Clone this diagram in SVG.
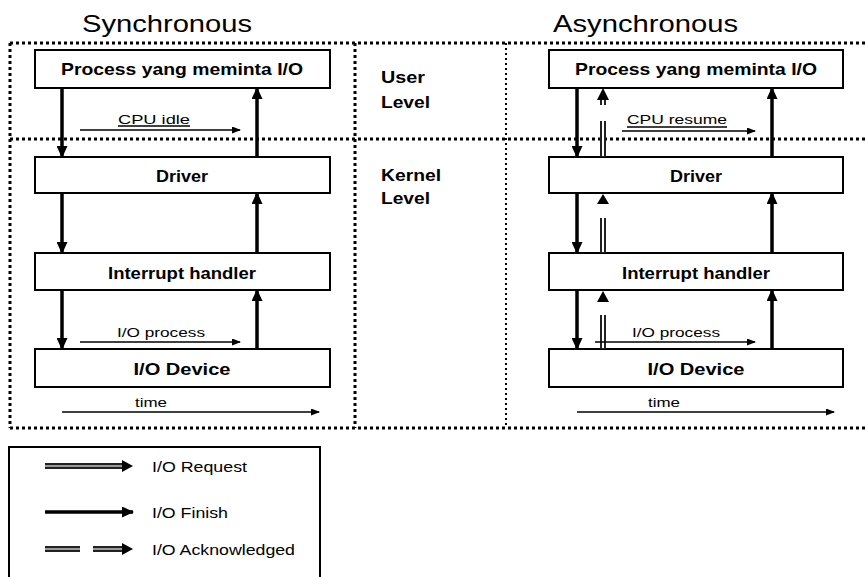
<svg xmlns="http://www.w3.org/2000/svg" width="868" height="577" viewBox="0 0 868 577">
  <defs>
    <style>
      text { font-family: "Liberation Sans", Arial, sans-serif; fill: #000; }
      .title { font-size: 24px; }
      .box { fill: #fff; stroke: #000; stroke-width: 2; }
      .lbl { font-size: 16.5px; font-weight: bold; text-anchor: middle; }
      .lvl { font-size: 17px; font-weight: bold; }
      .small { font-size: 12.5px; }
      .leg { font-size: 14px; }
      .dots { fill: none; stroke: #000; stroke-width: 3; stroke-dasharray: 3 3; }
      .dots2 { fill: none; stroke: #000; stroke-width: 2; stroke-dasharray: 2 3; }
      .thick { stroke: #000; stroke-width: 3.5; fill: none; }
      .thin { stroke: #000; stroke-width: 1.5; fill: none; }
      .dblo { stroke: #222; stroke-width: 6; fill: none; }
      .dbli { stroke: #fff; stroke-width: 2; fill: none; }
      .dblg { stroke: #999; stroke-width: 2; fill: none; }
      .head { fill: #000; }
    </style>
    <marker id="arrThin" markerWidth="9" markerHeight="7" refX="8" refY="3.5" orient="auto" markerUnits="userSpaceOnUse">
      <path d="M0,0 L9,3.5 L0,7 Z" fill="#000"/>
    </marker>
    <marker id="arrThick" markerWidth="12" markerHeight="11" refX="11" refY="5.5" orient="auto" markerUnits="userSpaceOnUse">
      <path d="M0,0 L12,5.5 L0,11 Z" fill="#000"/>
    </marker>
  </defs>

  <rect width="868" height="577" fill="#fff"/>

  <!-- column titles -->
  <text class="title" x="82" y="32" textLength="170" lengthAdjust="spacingAndGlyphs">Synchronous</text>
  <text class="title" x="553" y="32" textLength="185" lengthAdjust="spacingAndGlyphs">Asynchronous</text>

  <!-- dotted frame and dividers -->
  <g id="frame">
    <line class="dots" x1="10" y1="43" x2="868" y2="43"/>
    <line class="dots" x1="10" y1="43" x2="10" y2="428"/>
    <line class="dots" x1="10" y1="428" x2="868" y2="428"/>
    <line class="dots" x1="10" y1="139" x2="868" y2="139"/>
    <line class="dots" x1="355" y1="43" x2="355" y2="428"/>
    <line class="dots2" x1="506" y1="43" x2="506" y2="428"/>
  </g>

  <!-- level labels -->
  <g id="levels">
    <text class="lvl" x="381" y="83" textLength="44" lengthAdjust="spacingAndGlyphs">User</text>
    <text class="lvl" x="381" y="108" textLength="49" lengthAdjust="spacingAndGlyphs">Level</text>
    <text class="lvl" x="381" y="181" textLength="60" lengthAdjust="spacingAndGlyphs">Kernel</text>
    <text class="lvl" x="381" y="204" textLength="49" lengthAdjust="spacingAndGlyphs">Level</text>
  </g>

  <!-- synchronous column -->
  <g id="sync-process">
    <rect class="box" x="35" y="50" width="295" height="38"/>
    <text class="lbl" x="182" y="75" textLength="242" lengthAdjust="spacingAndGlyphs">Process yang meminta I/O</text>
  </g>
  <g id="sync-driver">
    <rect class="box" x="35" y="157" width="295" height="36"/>
    <text class="lbl" x="182" y="182" textLength="52" lengthAdjust="spacingAndGlyphs">Driver</text>
  </g>
  <g id="sync-interrupt">
    <rect class="box" x="35" y="253" width="295" height="37"/>
    <text class="lbl" x="182" y="279" textLength="148" lengthAdjust="spacingAndGlyphs">Interrupt handler</text>
  </g>
  <g id="sync-device">
    <rect class="box" x="35" y="349" width="295" height="38"/>
    <text class="lbl" x="182" y="375" textLength="97" lengthAdjust="spacingAndGlyphs">I/O Device</text>
  </g>

  <!-- asynchronous column -->
  <g id="async-process">
    <rect class="box" x="549" y="50" width="294" height="38"/>
    <text class="lbl" x="696" y="75" textLength="242" lengthAdjust="spacingAndGlyphs">Process yang meminta I/O</text>
  </g>
  <g id="async-driver">
    <rect class="box" x="549" y="157" width="294" height="36"/>
    <text class="lbl" x="696" y="182" textLength="52" lengthAdjust="spacingAndGlyphs">Driver</text>
  </g>
  <g id="async-interrupt">
    <rect class="box" x="549" y="253" width="294" height="37"/>
    <text class="lbl" x="696" y="279" textLength="148" lengthAdjust="spacingAndGlyphs">Interrupt handler</text>
  </g>
  <g id="async-device">
    <rect class="box" x="549" y="349" width="294" height="38"/>
    <text class="lbl" x="696" y="375" textLength="97" lengthAdjust="spacingAndGlyphs">I/O Device</text>
  </g>

  <!-- connectors -->
  <g id="connectors">
    <!-- synchronous: finish arrows down / up -->
    <line class="thick" x1="62" y1="88" x2="62" y2="157" marker-end="url(#arrThick)"/>
    <line class="thick" x1="62" y1="193" x2="62" y2="253" marker-end="url(#arrThick)"/>
    <line class="thick" x1="62" y1="290" x2="62" y2="349" marker-end="url(#arrThick)"/>
    <line class="thick" x1="257" y1="157" x2="257" y2="88" marker-end="url(#arrThick)"/>
    <line class="thick" x1="257" y1="253" x2="257" y2="193" marker-end="url(#arrThick)"/>
    <line class="thick" x1="257" y1="349" x2="257" y2="290" marker-end="url(#arrThick)"/>

    <!-- synchronous: timeline arrows -->
    <line class="thin" x1="80" y1="130" x2="240" y2="130" marker-end="url(#arrThin)"/>
    <line class="thin" x1="80" y1="342" x2="240" y2="342" marker-end="url(#arrThin)"/>
    <line class="thin" x1="62" y1="412" x2="319" y2="412" marker-end="url(#arrThin)"/>

    <!-- asynchronous: finish arrows -->
    <line class="thick" x1="577" y1="88" x2="577" y2="157" marker-end="url(#arrThick)"/>
    <line class="thick" x1="577" y1="193" x2="577" y2="253" marker-end="url(#arrThick)"/>
    <line class="thick" x1="577" y1="290" x2="577" y2="349" marker-end="url(#arrThick)"/>
    <line class="thick" x1="772" y1="157" x2="772" y2="88" marker-end="url(#arrThick)"/>
    <line class="thick" x1="772" y1="253" x2="772" y2="193" marker-end="url(#arrThick)"/>
    <line class="thick" x1="772" y1="349" x2="772" y2="290" marker-end="url(#arrThick)"/>

    <!-- asynchronous: acknowledged arrows (dashed double line) -->
    <g id="ack-1">
      <line class="dblo" x1="603" y1="99" x2="603" y2="105"/>
      <line class="dbli" x1="603" y1="99" x2="603" y2="105"/>
      <line class="dblo" x1="603" y1="121" x2="603" y2="157"/>
      <line class="dbli" x1="603" y1="121" x2="603" y2="156"/>
      <path class="head" d="M603,88 L609,100 L597,100 Z"/>
    </g>
    <g id="ack-2">
      <line class="dblo" x1="603" y1="218" x2="603" y2="253"/>
      <line class="dbli" x1="603" y1="218" x2="603" y2="252"/>
      <path class="head" d="M603,194 L609,204 L597,204 Z"/>
    </g>
    <g id="ack-3">
      <line class="dblo" x1="603" y1="315" x2="603" y2="349"/>
      <line class="dbli" x1="603" y1="315" x2="603" y2="348"/>
      <path class="head" d="M603,291 L609,302 L597,302 Z"/>
    </g>

    <!-- asynchronous: timeline arrows -->
    <line class="thin" x1="622" y1="131" x2="755" y2="131" marker-end="url(#arrThin)"/>
    <line class="thin" x1="595" y1="342" x2="755" y2="342" marker-end="url(#arrThin)"/>
    <line class="thin" x1="577" y1="412" x2="834" y2="412" marker-end="url(#arrThin)"/>
  </g>

  <!-- timeline labels -->
  <g id="timeline-labels">
    <text class="small" x="118" y="124" textLength="72" lengthAdjust="spacingAndGlyphs">CPU idle</text>
    <line class="thin" x1="118" y1="126" x2="190" y2="126" stroke-width="1"/>
    <text class="small" x="117" y="337" textLength="88" lengthAdjust="spacingAndGlyphs">I/O process</text>
    <text class="small" x="135" y="407" textLength="32" lengthAdjust="spacingAndGlyphs">time</text>
    <text class="small" x="627" y="124" textLength="100" lengthAdjust="spacingAndGlyphs">CPU resume</text>
    <line class="thin" x1="627" y1="127" x2="727" y2="127" stroke-width="1"/>
    <text class="small" x="632" y="337" textLength="88" lengthAdjust="spacingAndGlyphs">I/O process</text>
    <text class="small" x="648" y="407" textLength="32" lengthAdjust="spacingAndGlyphs">time</text>
  </g>

  <!-- legend -->
  <g id="legend">
    <rect x="9" y="447" width="311" height="140" fill="#fff" stroke="#000" stroke-width="2"/>
    <g id="legend-request">
      <line class="dblo" x1="45" y1="466" x2="124" y2="466"/>
      <line class="dblg" x1="45" y1="466" x2="124" y2="466"/>
      <path class="head" d="M133,466 L122,460 L122,472 Z"/>
      <text class="leg" x="152" y="472" textLength="95" lengthAdjust="spacingAndGlyphs">I/O Request</text>
    </g>
    <g id="legend-finish">
      <line class="thick" x1="45" y1="512" x2="133" y2="512" stroke-width="4" marker-end="url(#arrThick)"/>
      <text class="leg" x="152" y="518" textLength="76" lengthAdjust="spacingAndGlyphs">I/O Finish</text>
    </g>
    <g id="legend-ack">
      <line class="dblo" x1="45" y1="549" x2="80" y2="549"/>
      <line class="dblg" x1="45" y1="549" x2="80" y2="549"/>
      <line class="dblo" x1="93" y1="549" x2="124" y2="549"/>
      <line class="dblg" x1="93" y1="549" x2="124" y2="549"/>
      <path class="head" d="M133,549 L122,543 L122,555 Z"/>
      <text class="leg" x="152" y="555" textLength="143" lengthAdjust="spacingAndGlyphs">I/O Acknowledged</text>
    </g>
  </g>
</svg>
